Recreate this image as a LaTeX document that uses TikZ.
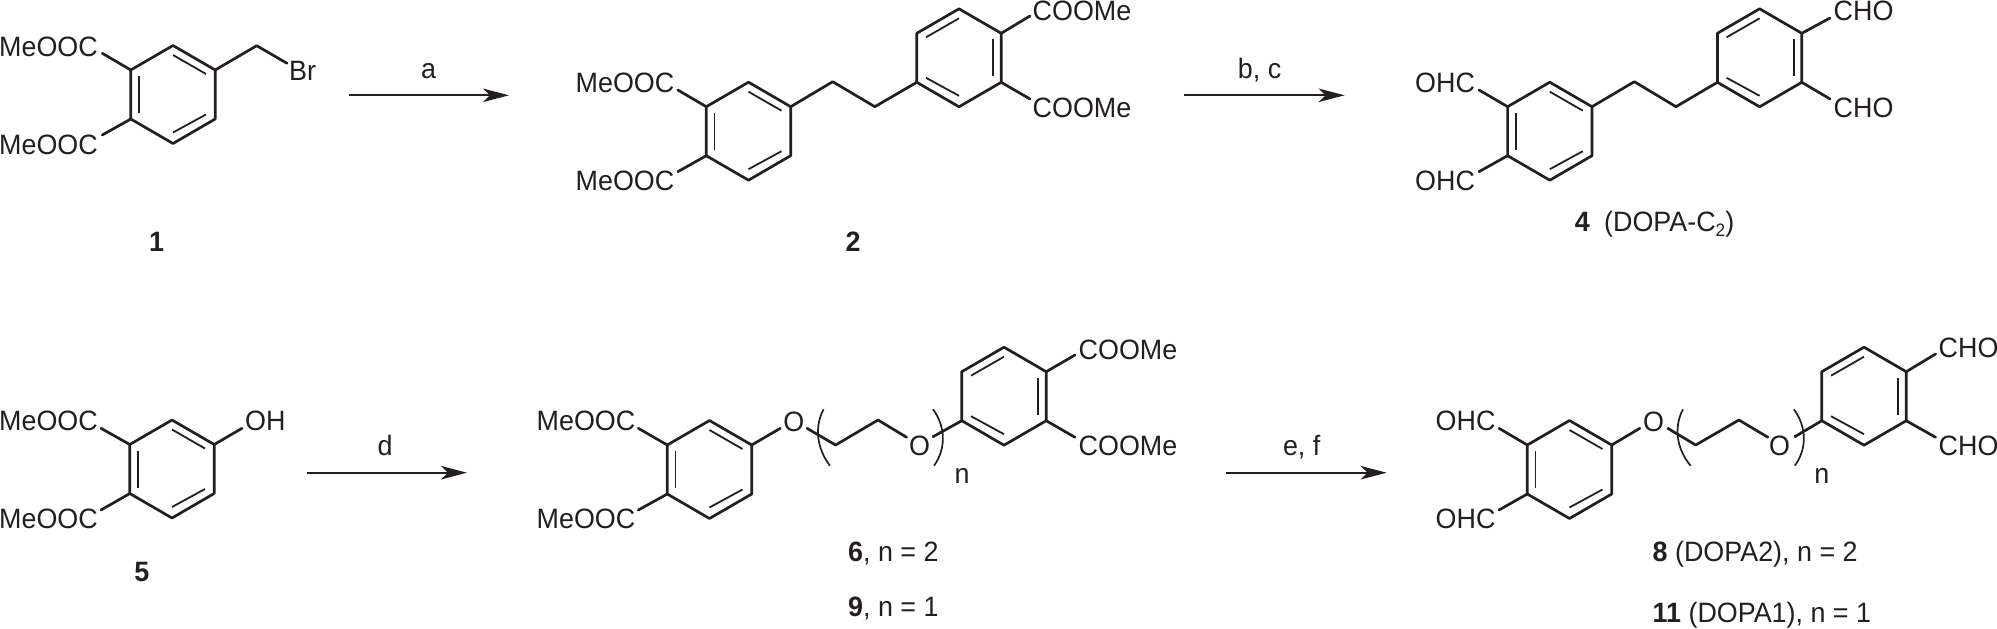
\documentclass[tikz,border=0pt]{standalone}
\usepackage{fontspec}
\setmainfont[FakeStretch=0.96]{Liberation Sans}
\usetikzlibrary{arrows.meta}
\definecolor{ink}{HTML}{231F20}
\tikzset{
  bond/.style={draw=ink,line width=2.7pt,line join=round,line cap=round},
  inner bond/.style={draw=ink,line width=1.8pt,line cap=butt},
  paren/.style={draw=ink,line width=1.7pt},
  rxn/.style={draw=ink,line width=1.9pt,-{Stealth[length=26pt,width=13.5pt,inset=7pt,color=ink]},shorten >=0pt},
  lab/.style={inner sep=0pt,anchor=base west,text=ink,font=\fontsize{28}{31}\selectfont},
  lab c/.style={lab,anchor=base},
}
% ring with double bonds on ul-ll, t-ur, lr-b
\newcommand\ringframe[3]{%
  \begin{scope}[shift={(#2,#3)}]
    \coordinate (#1t) at (0,-49);
    \coordinate (#1ur) at (42.2,-24.5);
    \coordinate (#1lr) at (42.2,24.5);
    \coordinate (#1b) at (0,49);
    \coordinate (#1ll) at (-42.2,24.5);
    \coordinate (#1ul) at (-42.2,-24.5);
    \draw[bond] (#1t)--(#1ur)--(#1lr)--(#1b)--(#1ll)--(#1ul)--cycle;
  \end{scope}}
\newcommand\benzA[3]{\ringframe{#1}{#2}{#3}%
  \begin{scope}[shift={(#2,#3)}]
    \coordinate (#1i1) at (-34,-18.5); \coordinate (#1i2) at (-34,18.5);
    \coordinate (#1i3) at (0,-39.5);   \coordinate (#1i4) at (33,-20.5);
    \coordinate (#1i5) at (33,20);     \coordinate (#1i6) at (0,38);
    \draw[inner bond] (#1i1)--(#1i2);
    \draw[inner bond] (#1i3)--(#1i4);
    \draw[inner bond] (#1i5)--(#1i6);
  \end{scope}}
\newcommand\benzB[3]{\ringframe{#1}{#2}{#3}%
  \begin{scope}[shift={(#2,#3)}]
    \coordinate (#1i1) at (34,-18.5);  \coordinate (#1i2) at (34,18.5);
    \coordinate (#1i3) at (0,-39.5);   \coordinate (#1i4) at (-33,-20.5);
    \coordinate (#1i5) at (-33,20);    \coordinate (#1i6) at (0,38);
    \draw[inner bond] (#1i1)--(#1i2);
    \draw[inner bond] (#1i3)--(#1i4);
    \draw[inner bond] (#1i5)--(#1i6);
  \end{scope}}
\newcommand\subst[4]{\coordinate (#2) at (#3,#4); \draw[bond] (#1)--(#2);}
\begin{document}
\begin{tikzpicture}[x=1pt,y=-1pt]
\useasboundingbox (0,0) rectangle (1997,629);
% ---- compound 1
\benzA{p}{173}{94.5}
\subst{pul}{pe1}{102.3}{53.3}
\subst{pll}{pe2}{102.3}{135}
\coordinate (pc) at (256.7,45.7); \coordinate (pe3) at (287,63.3);
\draw[bond] (pur)--(pc)--(pe3);
\node[lab] (p1) at (-1,56.7) {MeOOC};
\node[lab] (p2) at (-1,154) {MeOOC};
\node[lab] (pbr) at (289,80.5) {Br};
\node[lab c] (n1) at (156.6,251.7) {\textbf{1}};
% ---- arrow a
\coordinate (aa) at (349,95.3); \coordinate (ab) at (509,95.3);
\draw[rxn] (aa)--(ab);
\node[lab c] (la) at (428.5,78) {a};
% ---- compound 2
\benzA{q}{748.5}{131.2}
\benzB{r}{959}{57.8}
\subst{qul}{qe1}{677.8}{90}
\subst{qll}{qe2}{677.8}{171.7}
\coordinate (qc1) at (832.7,81.7); \coordinate (qc2) at (874.8,106.7);
\draw[bond] (qur)--(qc1)--(qc2)--(rll);
\subst{rur}{re1}{1030}{16}
\subst{rlr}{re2}{1030}{99}
\node[lab] (q1) at (575.5,92.7) {MeOOC};
\node[lab] (q2) at (575.5,190) {MeOOC};
\node[lab] (r1) at (1032.5,20.7) {COOMe};
\node[lab] (r2) at (1032.5,117.3) {COOMe};
\node[lab c] (n2) at (853,251.7) {\textbf{2}};
% ---- arrow b,c
\coordinate (ba) at (1184,95.3); \coordinate (bb) at (1344.6,95.3);
\draw[rxn] (ba)--(bb);
\node[lab c] (lb) at (1259.6,78.3) {b, c};
% ---- compound 4
\benzA{s}{1549.8}{131.2}
\benzB{t}{1759.6}{57.8}
\subst{sul}{se1}{1479}{90}
\subst{sll}{se2}{1479}{171.7}
\coordinate (sc1) at (1634.3,81.7); \coordinate (sc2) at (1676,106.7);
\draw[bond] (sur)--(sc1)--(sc2)--(tll);
\subst{tur}{te1}{1830}{18}
\subst{tlr}{te2}{1830}{99}
\node[lab] (s1) at (1415,92.7) {OHC};
\node[lab] (s2) at (1415,190) {OHC};
\node[lab] (t1) at (1833.5,20.7) {CHO};
\node[lab] (t2) at (1833.5,117.3) {CHO};
\node[lab] (n4) at (1574.6,231.7) {\textbf{4}};
\node[lab] (n4b) at (1604,231.7) {(DOPA-C\raisebox{-5pt}{\fontsize{18}{20}\selectfont 2})};
% ---- compound 5
\benzA{u}{172}{469}
\subst{uul}{ue1}{101}{428.3}
\subst{ull}{ue2}{101}{510}
\subst{uur}{ue3}{242}{428.3}
\node[lab] (u1) at (-1,430.7) {MeOOC};
\node[lab] (u2) at (-1,528.3) {MeOOC};
\node[lab] (uoh) at (245,430.7) {OH};
\node[lab c] (n5) at (141.8,581.7) {\textbf{5}};
% ---- arrow d
\coordinate (da) at (307,472.7); \coordinate (db) at (467,472.7);
\draw[rxn] (da)--(db);
\node[lab c] (ld) at (385,455) {d};
% ---- compound 6/9
\benzA{v}{709.5}{469.5}
\benzB{w}{1004}{396.2}
\subst{vul}{ve1}{638.3}{428.3}
\subst{vll}{ve2}{638.3}{510}
\subst{vur}{ve3}{780.3}{428.3}
\coordinate (vc0) at (807,428.3); \coordinate (vc1) at (835.6,445);
\coordinate (vc2) at (878,420); \coordinate (vc3) at (906.6,437.3);
\draw[bond] (vc0)--(vc1)--(vc2)--(vc3);
\coordinate (vc4) at (933,436.7);
\draw[bond] (vc4)--(wll);
\subst{wur}{we1}{1075}{355}
\subst{wlr}{we2}{1075}{437.3}
\node[lab] (v1) at (536.5,430.7) {MeOOC};
\node[lab] (v2) at (536.5,528.3) {MeOOC};
\node[lab c] (vo1) at (793.7,431) {O};
\node[lab c] (vo2) at (919.6,455.5) {O};
\node[lab] (w1) at (1078.5,359) {COOMe};
\node[lab] (w2) at (1078.5,455.7) {COOMe};
\coordinate (vp1) at (823.6,409.3); \coordinate (vp2) at (830,465.7);
\coordinate (vp3) at (933,409.3); \coordinate (vp4) at (934,465.7);
\draw[paren] (vp1) .. controls (814,427) and (817,449) .. (vp2);
\draw[paren] (vp3) .. controls (946,427) and (946,449) .. (vp4);
\node[lab c] (vn) at (962,483.3) {n};
\node[lab] (n6) at (848,561.7) {\textbf{6}, n = 2};
\node[lab] (n9) at (848,616.7) {\textbf{9}, n = 1};
% ---- arrow e,f
\coordinate (ea) at (1226.4,472.7); \coordinate (eb) at (1386.6,472.7);
\draw[rxn] (ea)--(eb);
\node[lab c] (le) at (1301.7,455) {e, f};
% ---- compound 8/11
\benzA{x}{1569.5}{469.5}
\benzB{y}{1864}{396.2}
\subst{xul}{xe1}{1499}{428.3}
\subst{xll}{xe2}{1499}{510}
\subst{xur}{xe3}{1639.8}{428.3}
\coordinate (xc0) at (1667.7,428.3); \coordinate (xc1) at (1695.7,445);
\coordinate (xc2) at (1738.9,420); \coordinate (xc3) at (1767.9,437.3);
\draw[bond] (xc0)--(xc1)--(xc2)--(xc3);
\coordinate (xc4) at (1794.8,436.7);
\draw[bond] (xc4)--(yll);
\subst{yur}{ye1}{1935.6}{354}
\subst{ylr}{ye2}{1935.6}{437.3}
\node[lab] (x1) at (1435.5,430.7) {OHC};
\node[lab] (x2) at (1435.5,528.3) {OHC};
\node[lab c] (xo1) at (1653.5,431) {O};
\node[lab c] (xo2) at (1779.6,455.5) {O};
\node[lab] (y1) at (1938.5,357.7) {CHO};
\node[lab] (y2) at (1938.5,455) {CHO};
\coordinate (xp1) at (1683,409.3); \coordinate (xp2) at (1690.6,465.7);
\coordinate (xp3) at (1793.8,409.3); \coordinate (xp4) at (1794.8,465.7);
\draw[paren] (xp1) .. controls (1673.5,427) and (1676.5,449) .. (xp2);
\draw[paren] (xp3) .. controls (1807,427) and (1807,449) .. (xp4);
\node[lab c] (xn) at (1821.8,483.3) {n};
\node[lab] (n8) at (1652.5,561.7) {\textbf{8} (DOPA2), n = 2};
\node[lab] (n11) at (1652.5,622.7) {\textbf{11} (DOPA1), n = 1};
\end{tikzpicture}
\end{document}
